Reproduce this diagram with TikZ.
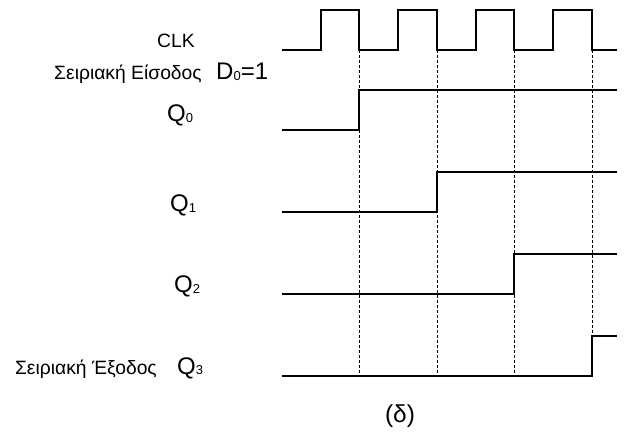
\documentclass[tikz,border=0pt]{standalone}
\usepackage{fontspec}
\setmainfont{Liberation Sans}
\begin{document}
\begin{tikzpicture}[x=1pt,y=-1pt,
  wave/.style={line width=1.3pt,line join=miter},
  grid/.style={line width=0.9pt,dash pattern=on 3pt off 2pt},
  lbl/.style={inner sep=0pt,anchor=base west},
  small/.style={font=\fontsize{19.3}{21}\selectfont},
  big/.style={font=\fontsize{24}{26}\selectfont}]
\useasboundingbox (0,0) rectangle (625,433);
% clock edges
\foreach \n/\x in {a/359,b/437,c/514,d/592}{\coordinate (e\n) at (\x,50);}
% clock
\draw[wave] (282,50) -- (321,50) -- (321,10) -- (359,10) -- (359,50)
  -- (398,50) -- (398,10) -- (437,10) -- (437,50)
  -- (476,50) -- (476,10) -- (514,10) -- (514,50)
  -- (553,50) -- (553,10) -- (592,10) -- (592,50) -- (617,50);
% shift register outputs
\draw[wave] (282,130) -- (359,130) -- (359,90) -- (617,90);
\draw[wave] (282,212) -- (437,212) -- (437,172) -- (617,172);
\draw[wave] (282,294) -- (514,294) -- (514,254) -- (617,254);
\draw[wave] (282,376) -- (592,376) -- (592,336) -- (617,336);
% dashed markers at the falling clock edges
\foreach \n in {a,b,c,d}{\draw[grid] (e\n) -- (e\n |- 0,376);}
% labels
\newcommand{\sigsub}[2]{#1{\fontsize{13}{13}\selectfont\raisebox{-0.5pt}{#2}}}
\node[lbl,small,anchor=base] (clk) at (176,48) {CLK};
\node[lbl,small,anchor=base east] (sin) at (202,80) {Σειριακή Είσοδος};
\node[lbl,big] (d0) at (216,80) {\sigsub{D}{0}=1};
\node[lbl,big] (q0) at (167,122) {\sigsub{Q}{0}};
\node[lbl,big] (q1) at (170,212) {\sigsub{Q}{1}};
\node[lbl,big] (q2) at (174,293) {\sigsub{Q}{2}};
\node[lbl,big] (q3) at (177,374) {\sigsub{Q}{3}};
\node[lbl,small,anchor=base east] (sout) at (157,374) {Σειριακή Έξοδος};
\node[lbl,font=\fontsize{24.5}{26}\selectfont,anchor=base] (cap) at (400,423) {(δ)};
\end{tikzpicture}
\end{document}
